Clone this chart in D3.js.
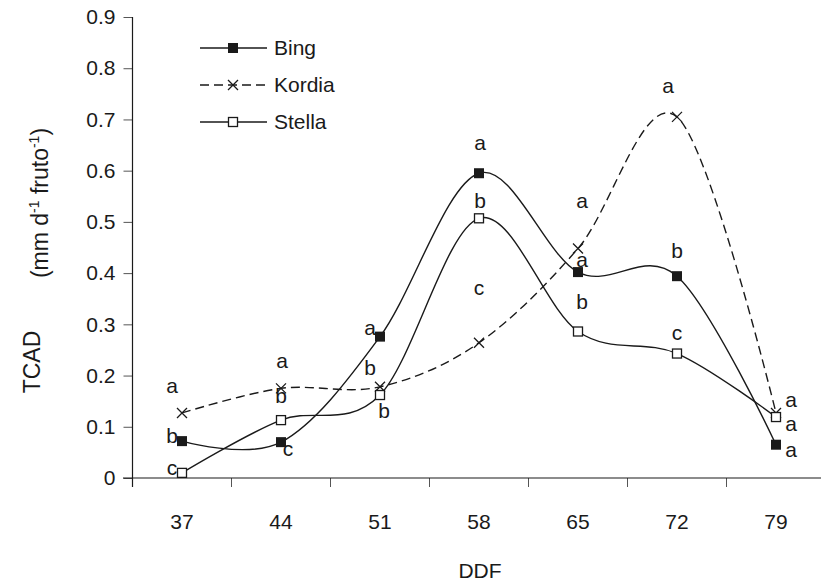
<!DOCTYPE html>
<html>
<head>
<meta charset="utf-8">
<script src="https://cdn.jsdelivr.net/npm/d3@7"></script>
<style>
  body { margin: 0; background: #fff; }
  svg { display: block; }
  text { font-family: "Liberation Sans", Arial, Helvetica, sans-serif; fill: #1a1a1a; }
</style>
</head>
<body>
<svg id="chart" width="821" height="585"></svg>
<script>
// ---- data ----
const categories = ["37", "44", "51", "58", "65", "72", "79"];
const yTicks = [0, 0.1, 0.2, 0.3, 0.4, 0.5, 0.6, 0.7, 0.8, 0.9];
const seriesNames = ["Bing", "Kordia", "Stella"];
const bing   = [0.072, 0.070, 0.276, 0.595, 0.402, 0.394, 0.065];
const kordia = [0.127, 0.175, 0.178, 0.264, 0.448, 0.705, 0.127];
const stella = [0.010, 0.113, 0.162, 0.507, 0.286, 0.243, 0.119];
const bingLetters   = ["b", "c", "a", "a", "a", "b", "a"];
const kordiaLetters = ["a", "a", "b", "c", "a", "a", "a"];
const stellaLetters = ["c", "b", "b", "b", "b", "c", "a"];
// letter placement offsets (px) relative to each point
const bingOffsets   = [[-10,-5],[7,7],[-10,-9],[1,-31],[4,-12],[0,-26],[15,5]];
const kordiaOffsets = [[-10,-27],[1,-28],[-10,-19],[0,-55],[4,-48],[-9,-31],[15,-13]];
const stellaOffsets = [[-10,-5],[0,-24],[4,16],[1,-18],[4,-30],[0,-21],[15,7]];

const svg = d3.select("#chart");
const ink = "#1a1a1a";
const FS = 21;

const x = d3.scaleBand().domain(categories).range([132.5, 825.5]).padding(0);
const y = d3.scaleLinear().domain([0, 0.9]).range([478, 17]);
const cx = c => x(c) + x.bandwidth() / 2;

// axes
const yAxis = d3.axisLeft(y).tickValues(yTicks).tickSize(9).tickPadding(8)
  .tickFormat(d => d === 0 ? "0" : d3.format(".1f")(d));
const gy = svg.append("g").attr("transform", `translate(${132.5},0)`).call(yAxis);
gy.select(".domain").remove();
gy.selectAll(".tick line").attr("stroke", "#555").attr("stroke-width", 1);
gy.selectAll(".tick text").attr("font-size", FS).attr("fill", ink);

const xAxis = d3.axisBottom(x).tickSize(0).tickPadding(36);
const gx = svg.append("g").attr("transform", `translate(0,${478})`).call(xAxis);
gx.select(".domain").remove();
gx.selectAll(".tick line").remove();
gx.selectAll(".tick text").attr("font-size", FS).attr("fill", ink);

// x boundary ticks
const bounds = categories.map(c => x(c)).concat([x(categories[categories.length-1]) + x.bandwidth()]);
svg.append("g").selectAll("line").data(bounds).join("line")
  .attr("x1", d => d).attr("x2", d => d)
  .attr("y1", 478).attr("y2", 487)
  .attr("stroke", "#555").attr("stroke-width", 1);

// axis lines
svg.append("line").attr("x1", 132.5).attr("x2", 132.5).attr("y1", 17).attr("y2", 487)
  .attr("stroke", ink).attr("stroke-width", 1.2);
svg.append("line").attr("x1", 123).attr("x2", 821).attr("y1", 478).attr("y2", 478)
  .attr("stroke", ink).attr("stroke-width", 1.2);

// axis titles
svg.append("text").attr("x", 480).attr("y", 578).attr("text-anchor", "middle")
  .attr("font-size", FS).text("DDF");
svg.append("text").attr("transform", "translate(40,362) rotate(-90)")
  .attr("text-anchor", "middle").attr("font-size", 23).text("TCAD");
const unit = svg.append("text").attr("transform", "translate(48,203) rotate(-90)")
  .attr("text-anchor", "middle").attr("font-size", 23);
unit.append("tspan").text("(mm d");
unit.append("tspan").attr("font-size", 14).attr("dy", -9).text("-1");
unit.append("tspan").attr("dy", 9).text(" fruto");
unit.append("tspan").attr("font-size", 14).attr("dy", -9).text("-1");
unit.append("tspan").attr("dy", 9).text(")");

// series
const series = [
  { name: seriesNames[0], values: bing,   letters: bingLetters,   offs: bingOffsets,   dash: null,  marker: "filled" },
  { name: seriesNames[1], values: kordia, letters: kordiaLetters, offs: kordiaOffsets, dash: "9,5", marker: "x" },
  { name: seriesNames[2], values: stella, letters: stellaLetters, offs: stellaOffsets, dash: null,  marker: "open" }
];

const line = d3.line()
  .x((d, i) => cx(categories[i]))
  .y(d => y(d))
  .curve(d3.curveCardinal.tension(0));

function drawMarker(g, type, px, py) {
  if (type === "filled") {
    g.append("rect").attr("x", px - 5).attr("y", py - 5).attr("width", 10).attr("height", 10)
      .attr("fill", ink);
  } else if (type === "open") {
    g.append("rect").attr("x", px - 4.5).attr("y", py - 4.5).attr("width", 9).attr("height", 9)
      .attr("fill", "#fff").attr("stroke", ink).attr("stroke-width", 1.3);
  } else {
    g.append("path").attr("d", `M${px-5},${py-5}L${px+5},${py+5}M${px-5},${py+5}L${px+5},${py-5}`)
      .attr("stroke", ink).attr("stroke-width", 1.3).attr("fill", "none");
  }
}

const plot = svg.append("g");
series.forEach(s => {
  plot.append("path").datum(s.values).attr("d", line)
    .attr("fill", "none").attr("stroke", ink).attr("stroke-width", 1.4)
    .attr("stroke-dasharray", s.dash);
});
series.forEach(s => {
  const g = plot.append("g");
  s.values.forEach((v, i) => drawMarker(g, s.marker, cx(categories[i]), y(v)));
});
series.forEach(s => {
  plot.append("g").selectAll("text").data(s.values).join("text")
    .attr("x", (v, i) => cx(categories[i]) + s.offs[i][0])
    .attr("y", (v, i) => y(v) + s.offs[i][1])
    .attr("dy", "0.35em").attr("text-anchor", "middle").attr("font-size", FS)
    .text((v, i) => s.letters[i]);
});

// legend
const legend = svg.append("g");
series.forEach((s, i) => {
  const ly = 48 + i * 37;
  legend.append("line").attr("x1", 200).attr("x2", 267).attr("y1", ly).attr("y2", ly)
    .attr("stroke", ink).attr("stroke-width", 1.4).attr("stroke-dasharray", s.dash);
  drawMarker(legend, s.marker, 233, ly);
  legend.append("text").attr("x", 274).attr("y", ly).attr("dy", "0.35em")
    .attr("font-size", FS).text(s.name);
});
</script>
</body>
</html>
